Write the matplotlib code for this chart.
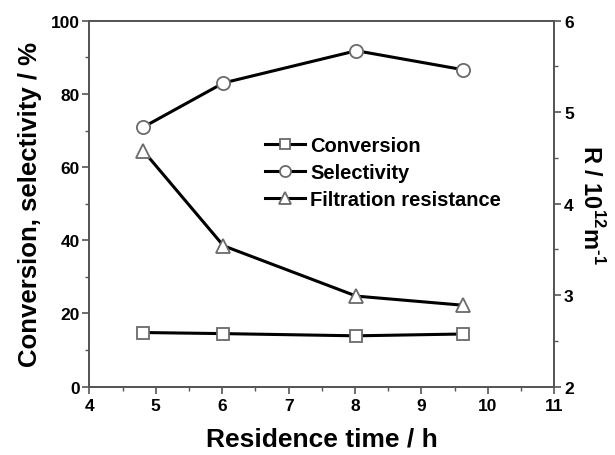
import matplotlib
matplotlib.use("Agg")
import matplotlib.pyplot as plt
from matplotlib.lines import Line2D
from matplotlib.ticker import MultipleLocator

plt.rcParams['font.family'] = ['Liberation Sans', 'DejaVu Sans']
plt.rcParams['font.weight'] = 'bold'
plt.rcParams['mathtext.fontset'] = 'custom'
plt.rcParams['mathtext.bf'] = 'Liberation Sans:bold'
plt.rcParams['mathtext.rm'] = 'Liberation Sans:bold'

# data
time_h = [4.81, 6.02, 8.02, 9.63]
conversion = [14.8, 14.5, 13.9, 14.4]
selectivity = [70.9, 83.0, 91.8, 86.6]
resistance = [4.58, 3.54, 2.99, 2.89]

spine_col = '#555555'
edge_col = '#6a6a6a'

fig = plt.figure(figsize=(6.15, 4.56), dpi=100)
ax = fig.add_axes([0.1452, 0.1498, 0.7561, 0.8026])
ax2 = ax.twinx()

style = dict(color='black', lw=2.2, mfc='white', mec=edge_col, mew=1.3)
ax.plot(time_h, conversion, marker='s', ms=8.5, **style)
ax.plot(time_h, selectivity, marker='o', ms=9.5, **style)
ax2.plot(time_h, resistance, marker='^', ms=10.5, **style)

ax.set_xlim(4, 11)
ax.set_ylim(0, 100)
ax2.set_ylim(2, 6)

ax.xaxis.set_major_locator(MultipleLocator(1))
ax.xaxis.set_minor_locator(MultipleLocator(0.5))
ax.yaxis.set_major_locator(MultipleLocator(20))
ax.yaxis.set_minor_locator(MultipleLocator(10))
ax2.yaxis.set_major_locator(MultipleLocator(1))
ax2.yaxis.set_minor_locator(MultipleLocator(0.5))

for a in (ax, ax2):
    for s in a.spines.values():
        s.set_color(spine_col)
        s.set_linewidth(1.3)
    a.tick_params(which='major', direction='out', length=5, width=1.2, color=spine_col,
                  labelsize=12.5, pad=2)
    a.tick_params(which='minor', direction='out', length=3, width=1.0, color=spine_col)
ax.tick_params(axis='x', pad=3)

ax.set_xlabel('Residence time / h', fontsize=19, fontweight='bold', labelpad=10)
ax.set_ylabel('Conversion, selectivity / %', fontsize=18.5, fontweight='bold', labelpad=6)
ax2.set_ylabel('R / 10$^{\\mathrm{12}}$m$^{\\mathrm{\u2010}\\mathrm{1}}$', fontsize=17,
               fontweight='bold', rotation=-90, labelpad=22)

handles = [
    Line2D([], [], marker='s', ms=7, **style),
    Line2D([], [], marker='o', ms=8, **style),
    Line2D([], [], marker='^', ms=8, **style),
]
labels = ['Conversion', 'Selectivity', 'Filtration resistance']
leg = ax.legend(handles, labels, loc='upper left', bbox_to_anchor=(0.378, 0.684),
                frameon=False, fontsize=14.5, handlelength=2.0, handletextpad=0.25,
                labelspacing=0.4, borderaxespad=0, borderpad=0)
for t in leg.get_texts():
    t.set_fontweight('bold')

fig.savefig('out.png', dpi=100)
